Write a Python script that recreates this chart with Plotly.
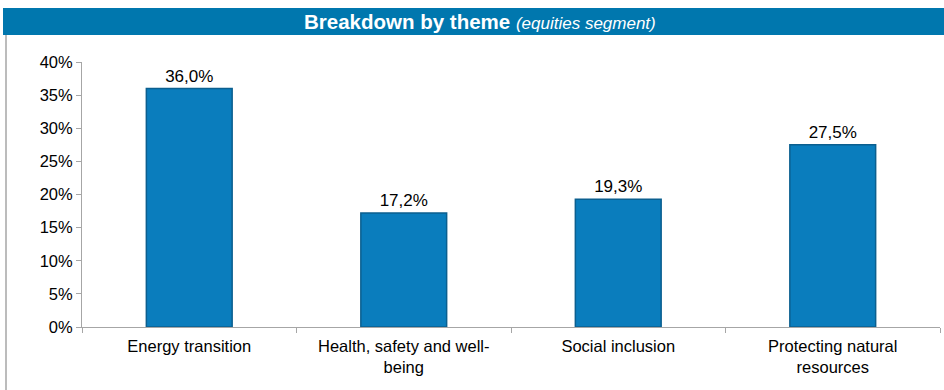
import plotly.graph_objects as go

categories = ["Energy transition", "Health, safety and well-<br>being", "Social inclusion", "Protecting natural<br>resources"]
values = [36.0, 17.2, 19.3, 27.5]
y_ticks = [0, 5, 10, 15, 20, 25, 30, 35, 40]

fig = go.Figure()
fig.add_trace(go.Bar(
    x=categories, y=values,
    marker=dict(color="#0A7DBD", line=dict(color="#0B5F8F", width=1.5)),
    texttemplate="%{y:.1f}%", textposition="outside",
    textfont=dict(family="Arial, Liberation Sans", size=17, color="#000000"),
    cliponaxis=False, width=0.4,
))

fig.update_layout(
    width=944, height=390,
    margin=dict(l=82, r=4, t=62, b=63),
    paper_bgcolor="white", plot_bgcolor="white",
    separators=", ",
    showlegend=False,
    font=dict(family="Arial, Liberation Sans", color="#000000"),
    yaxis=dict(range=[0, 40], tickvals=y_ticks, ticktext=[f"{v}%" for v in y_ticks],
               showgrid=False, showline=True, linecolor="#A6A6A6", linewidth=1,
               ticks="outside", ticklen=5, tickcolor="#A6A6A6",
               tickfont=dict(size=16.5), zeroline=False),
    xaxis=dict(showgrid=False, showline=True, linecolor="#A6A6A6", linewidth=1,
               ticks="outside", ticklen=5, tickcolor="#A6A6A6", tickson="boundaries",
               tickfont=dict(size=16.5), range=[-0.5, 3.5], ticklabelstandoff=4),
    shapes=[
        dict(type="rect", xref="paper", yref="paper", x0=-79/858, x1=1.0 + 4/858,
             y0=1 + 27/265, y1=1 + 54/265, fillcolor="#0077AE", line=dict(width=0), layer="below"),
        dict(type="line", xref="paper", yref="paper", x0=-76/858, x1=-76/858,
             y0=-63/265, y1=1 + 27/265, line=dict(color="#A6A6A6", width=1.5)),
    ],
    annotations=[
        dict(xref="paper", yref="paper", x=(480 - 82) / 858, y=1 + 40.5/265,
             xanchor="center", yanchor="middle", showarrow=False,
             text="<b>Breakdown by theme</b> <i><span style='font-size:17px'>(equities segment)</span></i>",
             font=dict(size=20.5, color="white", family="Arial, Liberation Sans")),
    ],
)

fig.write_html("out.html")
